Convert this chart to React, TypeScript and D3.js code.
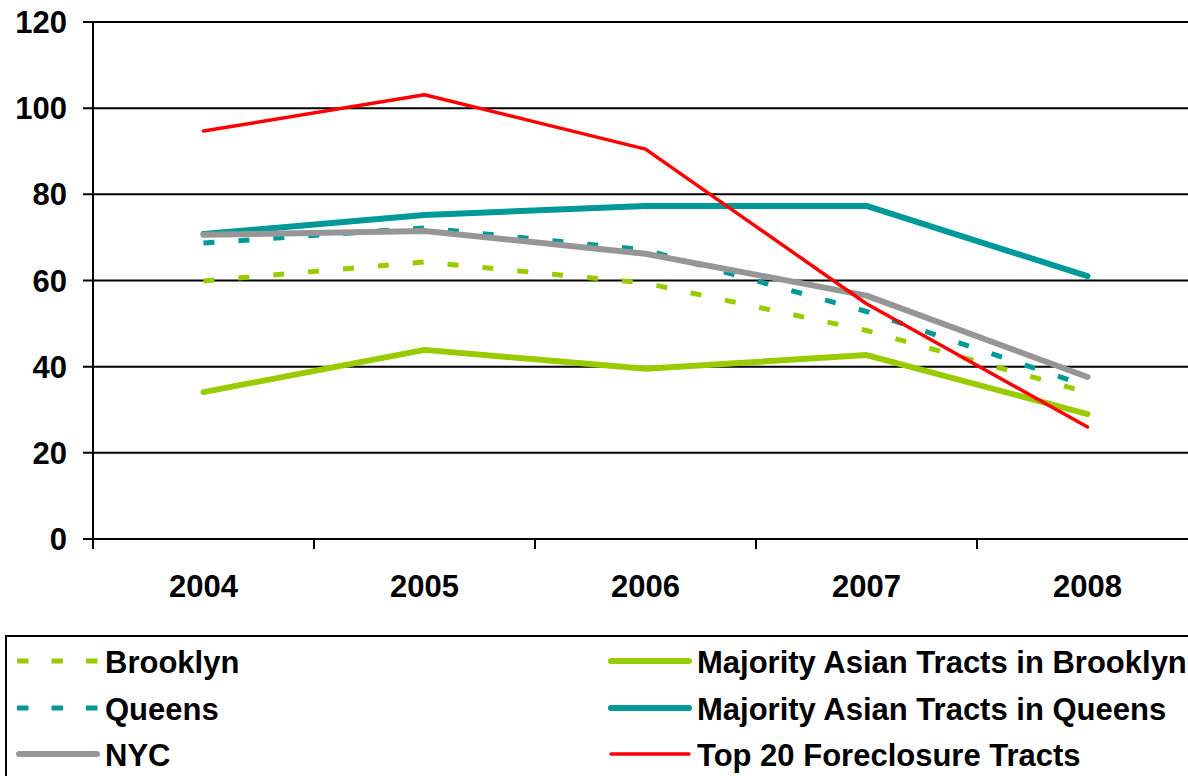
import React from "react";
import * as d3 from "d3";

const years = ["2004", "2005", "2006", "2007", "2008"];
const yTicks = [0, 20, 40, 60, 80, 100, 120];

const brooklyn = [59.9, 64.3, 59.4, 48.4, 34.0];
const majAsianBrooklyn = [34.1, 43.9, 39.5, 42.7, 29.0];
const queens = [68.7, 72.2, 67.1, 52.8, 35.5];
const majAsianQueens = [70.8, 75.2, 77.3, 77.3, 61.0];
const nyc = [70.6, 71.5, 66.2, 56.5, 37.6];
const top20 = [94.7, 103.1, 90.5, 54.6, 26.0];

const seriesNames = [
  "Brooklyn",
  "Majority Asian Tracts in Brooklyn",
  "Queens",
  "Majority Asian Tracts in Queens",
  "NYC",
  "Top 20 Foreclosure Tracts",
];
const seriesValues = [brooklyn, majAsianBrooklyn, queens, majAsianQueens, nyc, top20];
const seriesColors = ["#99CC00", "#99CC00", "#009999", "#009999", "#969696", "#FF0000"];
const seriesDashed = [true, false, true, false, false, false];
const seriesWidth = [5, 6, 5, 6, 6, 3.5];

export default function App() {
  const W = 1188;
  const H = 776;
  const left = 93;
  const top = 22;
  const bottom = 539;
  const x = d3.scaleBand<string>().domain(years).range([left, left + 221 * 5]).padding(0);
  const y = d3.scaleLinear().domain([0, 120]).range([bottom, top]);
  const line = d3
    .line<number>()
    .x((_, i) => (x(years[i]) as number) + x.bandwidth() / 2)
    .y((d) => y(d));

  const font = "'Liberation Sans', Arial, sans-serif";

  const legendRows = [
    [0, 1],
    [2, 3],
    [4, 5],
  ];
  const colSymX = [17, 609];
  const rowY = [662, 709, 755];

  return (
    <svg
      width={W}
      height={H}
      style={{ position: "absolute", left: 0, top: 0, background: "#fff" }}
      fontFamily={font}
    >
      {yTicks.map((t) => (
        <g key={t}>
          <line x1={83} x2={W} y1={y(t)} y2={y(t)} stroke="#000" strokeWidth={2} />
          <text
            x={67}
            y={y(t)}
            dy="0.36em"
            textAnchor="end"
            fontSize={31}
            fontWeight="bold"
            fill="#000"
          >
            {t}
          </text>
        </g>
      ))}
      <line x1={left} x2={left} y1={top} y2={bottom + 10} stroke="#000" strokeWidth={2} />
      {years.map((yr) => (
        <g key={yr}>
          <line
            x1={x(yr) as number}
            x2={x(yr) as number}
            y1={bottom}
            y2={bottom + 10}
            stroke="#000"
            strokeWidth={2}
          />
          <text
            x={(x(yr) as number) + x.bandwidth() / 2}
            y={586}
            dy="0.36em"
            textAnchor="middle"
            fontSize={31}
            fontWeight="bold"
            fill="#000"
          >
            {yr}
          </text>
        </g>
      ))}
      {seriesValues.map((vals, i) => (
        <path
          key={seriesNames[i]}
          d={line(vals) || ""}
          fill="none"
          stroke={seriesColors[i]}
          strokeWidth={seriesWidth[i]}
          strokeDasharray={seriesDashed[i] ? "11 24" : undefined}
          strokeLinecap={seriesDashed[i] ? "butt" : "round"}
          strokeLinejoin="round"
        />
      ))}
      <rect x={6} y={636} width={W + 10} height={160} fill="none" stroke="#000" strokeWidth={2} />
      {legendRows.map((row, r) =>
        row.map((si, c) => (
          <g key={si}>
            <line
              x1={colSymX[c] + (seriesDashed[si] ? 0 : 2)}
              x2={colSymX[c] + (seriesDashed[si] ? 82 : 80)}
              y1={rowY[r] - 1}
              y2={rowY[r] - 1}
              stroke={seriesColors[si]}
              strokeWidth={seriesDashed[si] ? 5 : seriesWidth[si]}
              strokeDasharray={seriesDashed[si] ? "11.5 23" : undefined}
              strokeLinecap={seriesDashed[si] ? "butt" : "round"}
            />
            <text
              x={colSymX[c] + 88}
              y={rowY[r]}
              dy="0.36em"
              fontSize={31}
              fontWeight="bold"
              fill="#000"
            >
              {seriesNames[si]}
            </text>
          </g>
        ))
      )}
    </svg>
  );
}
